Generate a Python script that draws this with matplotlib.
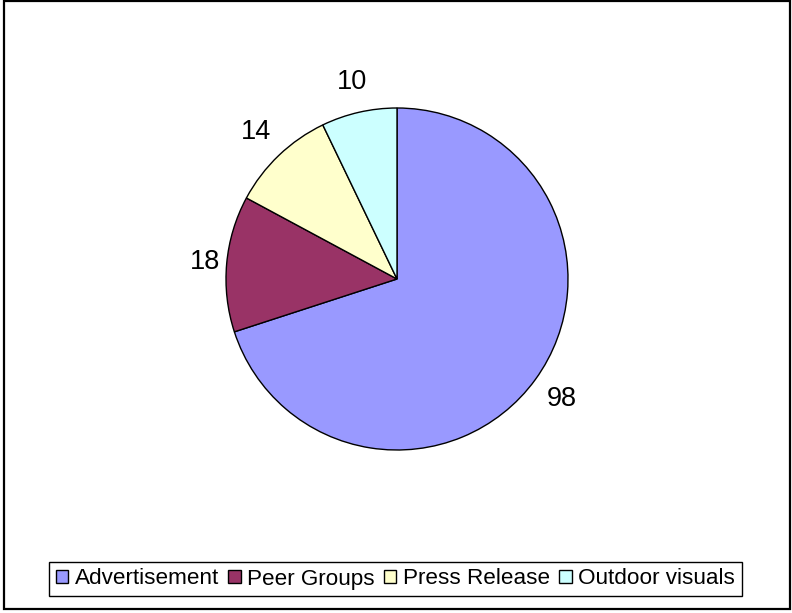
import numpy as np
import matplotlib
matplotlib.use("Agg")
import matplotlib.pyplot as plt
from matplotlib.patches import Rectangle

plt.rcParams['font.family'] = ['Liberation Sans', 'DejaVu Sans']

categories = ["Advertisement", "Peer Groups", "Press Release", "Outdoor visuals"]
values = [98, 18, 14, 10]
colors = ["#9999FF", "#993366", "#FFFFCC", "#CCFFFF"]

fig = plt.figure(figsize=(7.92, 6.13), dpi=100)

# outer chart border
fig.add_artist(Rectangle((4 / 792, 1 - 609 / 613), 786 / 792, 608 / 613,
                         transform=fig.transFigure, fill=False,
                         edgecolor="black", linewidth=1.6))

cx, cy, r = 397, 279, 171
ax = fig.add_axes([(cx - r) / 792, 1 - (cy + r) / 613, 2 * r / 792, 2 * r / 613])
wedges, _ = ax.pie(values, colors=colors, startangle=90, counterclock=False,
                   wedgeprops=dict(edgecolor="black", linewidth=1.0))
ax.set_aspect("auto")
ax.set_xlim(-1, 1)
ax.set_ylim(-1, 1)

# value labels just outside each wedge
label_dist = [1.19, 1.13, 1.19, 1.18]
for w, v, d in zip(wedges, values, label_dist):
    ang = np.deg2rad((w.theta1 + w.theta2) / 2)
    ax.text(d * np.cos(ang), d * np.sin(ang), str(v), fontsize=19.5,
            ha="center", va="center")

leg = fig.legend(wedges, categories, loc="center", ncol=4,
                 bbox_to_anchor=(395.5 / 792, 1 - 579 / 613),
                 frameon=True, fancybox=False, edgecolor="black", framealpha=1,
                 fontsize=16.2, handlelength=0.55, handleheight=0.55,
                 handletextpad=0.3, columnspacing=0.4, borderpad=0.3)
leg.get_frame().set_linewidth(1.0)

fig.savefig("out.png", dpi=100)
